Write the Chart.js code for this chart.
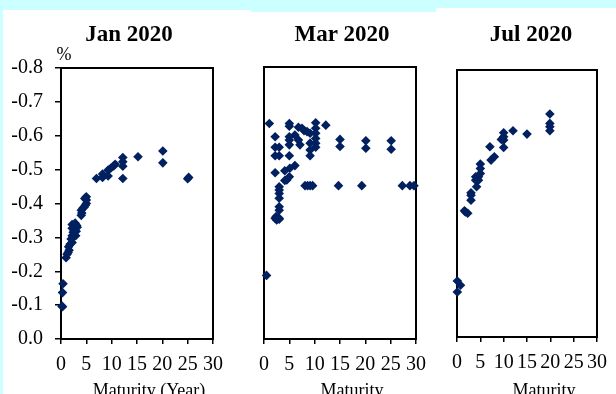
<!DOCTYPE html>
<html>
<head>
<meta charset="utf-8">
<script src="https://cdn.jsdelivr.net/npm/chart.js@4.4.1/dist/chart.umd.min.js"></script>
<style>
body{margin:0;width:616px;height:394px;background:#ccffff;position:relative;overflow:hidden}
.pane{position:absolute;background:#fff}
canvas{position:absolute;left:0;top:0}
</style>
</head>
<body>
<div class="pane" style="left:3px;top:10px;width:248px;height:384px"></div>
<div class="pane" style="left:251px;top:12px;width:185px;height:382px"></div>
<div class="pane" style="left:436px;top:8px;width:180px;height:386px"></div>
<canvas id="jan" width="616" height="394"></canvas>
<canvas id="mar" width="616" height="394"></canvas>
<canvas id="jul" width="616" height="394"></canvas>
<script>
// maturity (years) and yield (%)
const janMaturity = [0.3,0.2,0.3,0.4, 1.0,1.2,1.4,1.6,1.5,1.8,2.2,2.0,2.2,2.4,2.2,2.6,2.2,2.8,3.1,3.2,3.0,2.9,
  4.0,4.1,4.0,4.3,4.6,4.8,5.0,5.0,5.0,4.7,
  7.0,8.2,8.2,9.3,9.3,9.8,10.4,10.7,12.2,12.2,12.2,12.2,15.2,20.1,20.1,25.2,25.0];
const janYield = [-0.095,-0.097,-0.137,-0.163, -0.24,-0.25,-0.255,-0.262,-0.272,-0.28,-0.285,-0.295,-0.305,-0.315,-0.327,-0.32,-0.338,-0.342,-0.335,-0.33,-0.318,-0.305,
  -0.365,-0.372,-0.38,-0.386,-0.39,-0.395,-0.40,-0.41,-0.42,-0.415,
  -0.474,-0.477,-0.487,-0.481,-0.499,-0.504,-0.511,-0.516,-0.474,-0.51,-0.523,-0.536,-0.538,-0.555,-0.52,-0.477,-0.473];

const marMaturity = [0.5,
  1.05,5.0,5.0,6.8,7.5,7.9,8.5,9.1,10.2,10.2,10.2,10.2,10.2,10.2,12.2,
  2.2,2.2,3.0,2.2,3.0,5.0,5.0,5.0,6.1,6.8,7.1,5.0,9.1,9.1,9.1,
  15.0,15.0,20.1,20.1,25.1,25.1,
  6.1,5.1,4.1,2.2,5.0,4.5,4.1,
  8.1,8.6,9.1,9.6,14.7,19.3,27.3,28.8,29.6,
  3.0,3.0,3.0,3.0,3.0,3.0,2.4,3.0,2.5,2.2,3.0];
const marYield = [-0.187,
  -0.634,-0.634,-0.626,-0.623,-0.62,-0.613,-0.61,-0.605,-0.636,-0.62,-0.605,-0.59,-0.576,-0.564,-0.629,
  -0.595,-0.564,-0.564,-0.539,-0.539,-0.595,-0.585,-0.571,-0.6,-0.585,-0.571,-0.539,-0.576,-0.556,-0.539,
  -0.587,-0.566,-0.583,-0.561,-0.583,-0.558,
  -0.51,-0.502,-0.495,-0.489,-0.477,-0.468,-0.466,
  -0.451,-0.451,-0.451,-0.451,-0.451,-0.451,-0.451,-0.451,-0.451,
  -0.448,-0.438,-0.428,-0.414,-0.389,-0.379,-0.36,-0.355,-0.35,-0.355,-0.352];

const julMaturity = [0.07,0.75,0.07,1.6,1.8,2.3,3.0,3.0,3.0,4.2,4.0,4.0,4.6,4.6,5.0,5.0,5.0,
  7.3,8.0,7.05,10.0,9.5,10.0,10.0,10.0,12.0,15.0,19.9,19.9,19.9,19.9];
const julYield = [-0.168,-0.155,-0.135,-0.378,-0.375,-0.371,-0.41,-0.425,-0.432,-0.45,-0.47,-0.48,-0.47,-0.48,-0.49,-0.505,-0.518,
  -0.53,-0.54,-0.57,-0.568,-0.592,-0.59,-0.6,-0.612,-0.618,-0.608,-0.668,-0.64,-0.63,-0.618];

const xTicks = [0,5,10,15,20,25,30];
const yTicks = [-0.8,-0.7,-0.6,-0.5,-0.4,-0.3,-0.2,-0.1,0];

const serif = 'Liberation Serif';
const navy = '#002060';

function framePlugin(title, titleX, xTitle, xTitleX, showPct) {
  return {
    id: 'frame',
    beforeDatasetsDraw(chart) {
      const ctx = chart.ctx, a = chart.chartArea;
      ctx.save();
      ctx.strokeStyle = '#000';
      ctx.lineWidth = 2;
      ctx.strokeRect(a.left, a.top, a.right - a.left, a.bottom - a.top);
      ctx.fillStyle = '#000';
      ctx.textAlign = 'center';
      ctx.textBaseline = 'alphabetic';
      ctx.font = 'bold 23px "' + serif + '"';
      ctx.fillText(title, titleX, 41);
      ctx.font = '18px "' + serif + '"';
      ctx.fillText(xTitle, xTitleX, 396);
      if (showPct) ctx.fillText('%', 64, 60);
      ctx.restore();
    }
  };
}

function panel(id, xs, ys, box, withY, title, titleX, xTitle, xTitleX) {
  const yW = withY ? 55 : 0;
  const xH = 40;
  const pts = xs.map((x, i) => ({x: x, y: ys[i]}));
  new Chart(document.getElementById(id), {
    type: 'scatter',
    data: {
      datasets: [{
        data: pts,
        pointStyle: 'rectRot',
        radius: 4.8,
        backgroundColor: navy,
        borderColor: navy,
        borderWidth: 0,
        clip: false
      }]
    },
    options: {
      responsive: false,
      animation: false,
      devicePixelRatio: 1,
      layout: {padding: {left: box.l - yW, right: 616 - box.r, top: box.t, bottom: 394 - box.b - xH}},
      plugins: {legend: {display: false}, tooltip: {enabled: false}},
      scales: {
        x: {
          type: 'linear', min: 0, max: 30,
          afterBuildTicks: s => { s.ticks = xTicks.map(v => ({value: v})); },
          afterFit: s => { s.height = xH; },
          border: {display: false},
          grid: {drawOnChartArea: false, tickLength: 5, color: '#000', lineWidth: 1.5},
          ticks: {color: '#000', font: {family: serif, size: 20}, padding: 9, maxRotation: 0, autoSkip: false}
        },
        y: {
          type: 'linear', min: -0.8, max: 0, reverse: true,
          afterBuildTicks: s => { s.ticks = yTicks.map(v => ({value: v})); },
          afterFit: s => { s.width = yW; },
          border: {display: false},
          grid: {display: withY, drawOnChartArea: false, tickLength: 6, color: '#000', lineWidth: 1.5},
          ticks: {display: withY, color: '#000', font: {family: serif, size: 20}, padding: 12,
            callback: v => v.toFixed(1)}
        }
      }
    },
    plugins: [framePlugin(title, titleX, xTitle, xTitleX, withY)]
  });
}

panel('jan', janMaturity, janYield, {l: 61, r: 213, t: 68, b: 339}, true, 'Jan 2020', 129, 'Maturity (Year)', 149);
panel('mar', marMaturity, marYield, {l: 264, r: 416, t: 67, b: 339}, false, 'Mar 2020', 342, 'Maturity', 352);
panel('jul', julMaturity, julYield, {l: 457, r: 606, t: 70, b: 337}, false, 'Jul 2020', 531, 'Maturity', 544);
</script>
</body>
</html>
